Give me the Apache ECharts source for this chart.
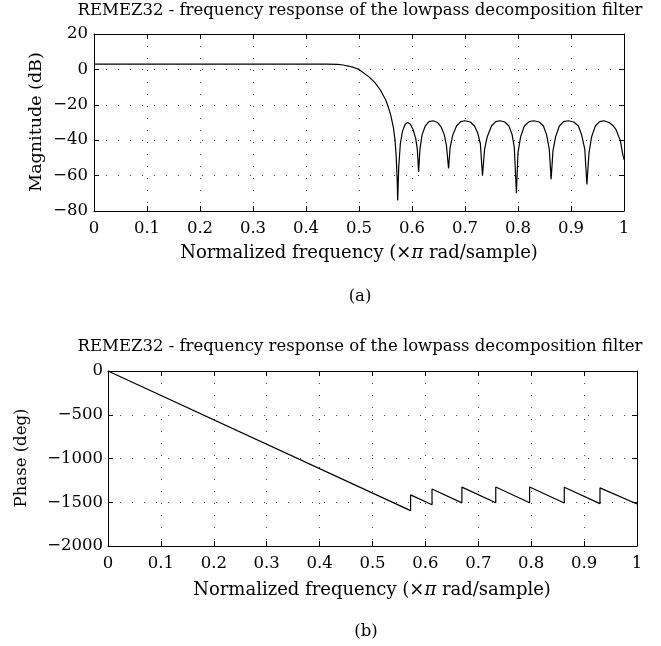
<!DOCTYPE html>
<html><head><meta charset="utf-8">
<script src="https://cdn.jsdelivr.net/npm/echarts@6/dist/echarts.min.js"></script>
<style>html,body{margin:0;padding:0;background:#fff}#c{width:661px;height:646px}</style>
</head><body><div id="c"></div>
<script>
// ---- data ----
const titleText = 'REMEZ32 - frequency response of the lowpass decomposition filter';
const freqTicks = [0, 0.1, 0.2, 0.3, 0.4, 0.5, 0.6, 0.7, 0.8, 0.9, 1];
const magTicks = [20, 0, -20, -40, -60, -80];
const phaseTicks = [0, -500, -1000, -1500, -2000];

const magFreq = [0, 0.05, 0.10, 0.15, 0.20, 0.25, 0.30, 0.35, 0.40, 0.44, 0.46, 0.47, 0.48, 0.49, 0.50,
  0.52, 0.53, 0.54, 0.55, 0.555, 0.56, 0.565, 0.568, 0.570, 0.572, 0.573,
  0.575, 0.578, 0.582, 0.587, 0.592, 0.597, 0.602, 0.607, 0.610, 0.6125,
  0.615, 0.619, 0.625, 0.632, 0.640, 0.648, 0.655, 0.661, 0.665, 0.669,
  0.672, 0.677, 0.684, 0.692, 0.700, 0.710, 0.718, 0.724, 0.729, 0.733,
  0.737, 0.742, 0.750, 0.758, 0.766, 0.775, 0.783, 0.789, 0.793, 0.797,
  0.800, 0.805, 0.812, 0.821, 0.830, 0.840, 0.848, 0.854, 0.859, 0.8625,
  0.866, 0.871, 0.878, 0.886, 0.895, 0.905, 0.914, 0.920, 0.926, 0.930,
  0.934, 0.939, 0.946, 0.954, 0.962, 0.972, 0.980, 0.985, 0.990, 0.993, 0.997, 1.0];
const magDb = [3, 3, 3, 3, 3, 3, 3, 3, 3, 3, 2.8, 2.5, 1.9, 1.1, 0,
  -4.5, -7.5, -11.5, -17, -21, -26, -33, -40, -48, -62, -74,
  -55, -42, -35, -31, -30, -31, -34, -39, -45, -58,
  -45, -37, -32, -29.5, -29, -30, -32.5, -37, -43, -56,
  -44, -37, -32, -29.5, -29, -29.7, -32, -36, -42, -60,
  -45, -38, -32, -29.5, -29, -29.7, -32, -37, -44, -70,
  -47, -38, -32, -29.5, -29, -29.7, -32, -37, -45, -62,
  -46, -38, -32, -29.5, -29, -29.7, -32, -37, -45, -65,
  -47, -38, -32, -29.5, -29, -30, -32, -34, -38, -40, -47, -51];

const phaseFreq = [0, 0.572, 0.572, 0.6125, 0.6125, 0.669, 0.669, 0.733, 0.733, 0.797, 0.797, 0.8625, 0.8625, 0.930, 0.930, 1.0];
const phaseDeg = [0, -1596, -1416, -1529, -1349, -1507, -1327, -1506, -1326, -1505, -1325, -1508, -1328, -1516, -1336, -1520];

// ---- chart ----
const FONT = '"DejaVu Serif", "Liberation Serif", serif';
const FS = 16.5;
const FS_NAME = 18;
const minus = v => String(v).replace('-', '\u2212');
const fmtX = v => String(+v.toFixed(1));

function xAxes(gi) {
  const base = {
    type: 'value', gridIndex: gi, min: 0, max: 1, interval: 0.1,
    axisLine: { show: true, onZero: false, lineStyle: { color: '#000', width: 1 } },
    axisTick: { show: true, inside: true, length: 5, lineStyle: { color: '#000' } },
  };
  return [
    Object.assign({}, base, {
      position: 'bottom',
      axisLabel: { show: true, formatter: fmtX, fontFamily: FONT, fontSize: FS, color: '#000', margin: 9 },
      splitLine: { show: true, lineStyle: { color: '#444', type: [1, 11], width: 1 } }
    }),
    Object.assign({}, base, {
      position: 'top', axisLabel: { show: false }, splitLine: { show: false }
    })
  ];
}
function yAxes(gi, min, max, interval, margin) {
  const base = {
    type: 'value', gridIndex: gi, min: min, max: max, interval: interval,
    axisLine: { show: true, onZero: false, lineStyle: { color: '#000', width: 1 } },
    axisTick: { show: true, inside: true, length: 5, lineStyle: { color: '#000' } },
  };
  return [
    Object.assign({}, base, {
      position: 'left',
      axisLabel: { show: true, formatter: minus, fontFamily: FONT, fontSize: FS, color: '#000', margin: margin },
      splitLine: { show: true, lineStyle: { color: '#444', type: [1, 11], width: 1 } }
    }),
    Object.assign({}, base, {
      position: 'right', axisLabel: { show: false }, splitLine: { show: false }
    })
  ];
}

const magData = magFreq.map((f, i) => [f, magDb[i]]);
const phaseData = phaseFreq.map((f, i) => [f, phaseDeg[i]]);

function txt(x, y, text, extra) {
  return Object.assign({
    type: 'text', x: x, y: y, silent: true,
    style: Object.assign({ text: text, fontFamily: FONT, fontSize: FS, fill: '#000', align: 'center', verticalAlign: 'middle' }, extra || {})
  });
}
const xName = 'Normalized frequency (\u00d7{i|\u03c0} rad/sample)';
const richI = { i: { fontStyle: 'italic', fontFamily: FONT, fontSize: FS_NAME, fill: '#000' } };

const chart = echarts.init(document.getElementById('c'), null, { renderer: 'canvas' });
chart.setOption({
  animation: false,
  backgroundColor: '#fff',
  grid: [
    { left: 94, top: 34, width: 530, height: 177 },
    { left: 108, top: 371, width: 529, height: 175 }
  ],
  xAxis: [].concat(xAxes(0), xAxes(1)),
  yAxis: [].concat(yAxes(0, -80, 20, 20, 6), yAxes(1, -2000, 0, 500, 5)),
  series: [
    { type: 'line', xAxisIndex: 0, yAxisIndex: 0, data: magData, showSymbol: false, symbol: 'none',
      lineStyle: { color: '#000', width: 1.2 }, silent: true },
    { type: 'line', xAxisIndex: 2, yAxisIndex: 2, data: phaseData, showSymbol: false, symbol: 'none',
      lineStyle: { color: '#000', width: 1.2 }, silent: true }
  ],
  graphic: [
    txt(360, 11, titleText),
    txt(360, 347, titleText),
    txt(359, 253, xName, { rich: richI, fontSize: FS_NAME }),
    txt(372, 590, xName, { rich: richI, fontSize: FS_NAME }),
    Object.assign(txt(36, 122, 'Magnitude (dB)', { fontSize: 17.5 }), { rotation: Math.PI / 2 }),
    Object.assign(txt(22, 458, 'Phase (deg)'), { rotation: Math.PI / 2 }),
    txt(360, 297, '(a)'),
    txt(366, 632, '(b)')
  ]
});
</script></body></html>
